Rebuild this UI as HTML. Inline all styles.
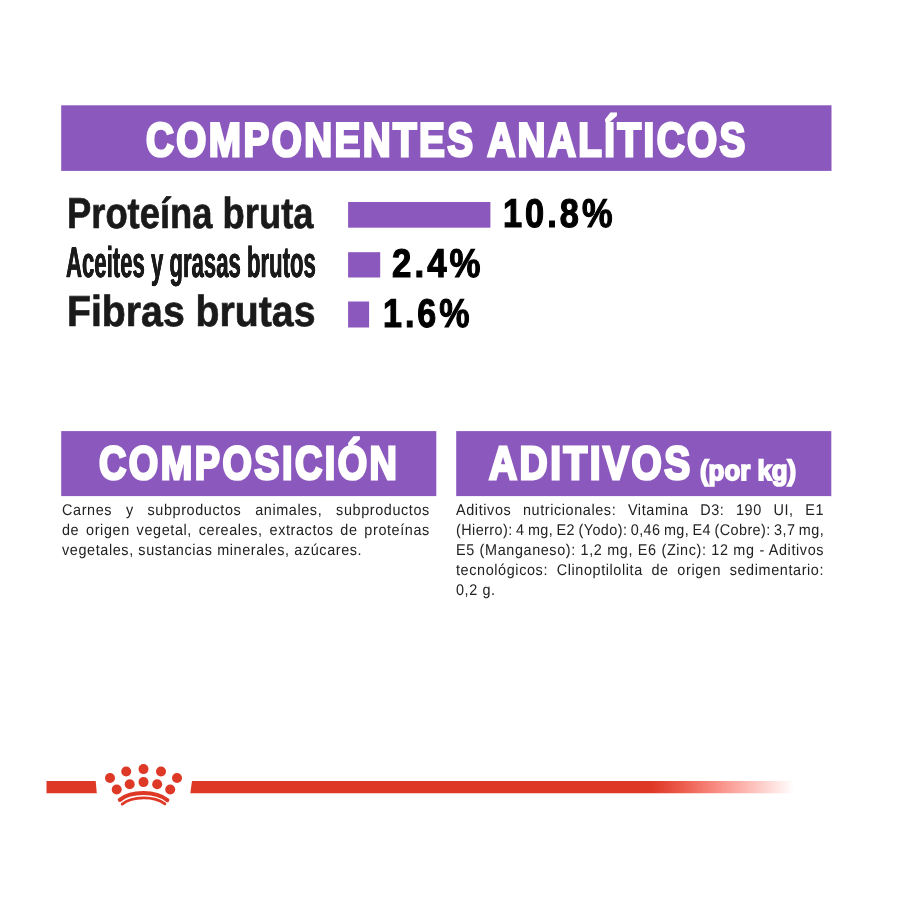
<!DOCTYPE html>
<html lang="es">
<head>
<meta charset="utf-8">
<title>Componentes analíticos</title>
<style>
html,body{margin:0;padding:0;background:#fff;}
body{width:900px;height:900px;position:relative;overflow:hidden;font-family:"Liberation Sans",sans-serif;}
.t{position:absolute;white-space:nowrap;line-height:1;transform-origin:0 100%;font-weight:bold;text-rendering:geometricPrecision;}
.hd{color:#fff;-webkit-text-stroke:2.8px #fff;letter-spacing:3px;}
.hd2{color:#fff;-webkit-text-stroke:1.8px #fff;}
.lbl{color:#1a1a1a;-webkit-text-stroke:0.7px #1a1a1a;}
#l2{-webkit-text-stroke:0.3px #1a1a1a;text-shadow:0.4px 0 0 #1a1a1a,-0.4px 0 0 #1a1a1a;}
.num{color:#000;letter-spacing:3.5px;-webkit-text-stroke:1.2px #000;}
.body{position:absolute;color:#222;font-size:15.5px;line-height:20px;letter-spacing:0.65px;transform-origin:0 0;transform:scaleX(0.93);text-rendering:geometricPrecision;}
.body div{text-align:justify;text-align-last:justify;white-space:nowrap;height:20px;}
.body div.last{text-align-last:left;}
</style>
</head>
<body>
<svg id="shapes" style="position:absolute;left:0;top:0;" width="900" height="520" viewBox="0 0 900 520">
<g fill="#8b58bd">
<rect x="61.2" y="105.3" width="770.3" height="65.6"/>
<rect x="348.1" y="202.0" width="142.3" height="25.7"/>
<rect x="348.1" y="252.2" width="32.1" height="25.3"/>
<rect x="348.1" y="301.5" width="21.0" height="26.0"/>
<rect x="61.2" y="431.1" width="375.1" height="65.0"/>
<rect x="456.2" y="431.1" width="375.1" height="65.0"/>
</g>
</svg>

<span id="h1" class="t hd" style="left:145.54px;top:117.05px;font-size:47.4px;transform:scale(0.8151,1.0000);">COMPONENTES ANALÍTICOS</span>
<span id="l1" class="t lbl" style="left:66.77px;top:193.41px;font-size:43.3px;transform:scale(0.8397,1.0000);">Proteína bruta</span>
<span id="l2" class="t lbl" style="left:65.70px;top:242.01px;font-size:43.3px;transform:scale(0.5115,1.0000);">Aceites y grasas brutos</span>
<span id="l3" class="t lbl" style="left:67.00px;top:291.11px;font-size:43.3px;transform:scale(0.9059,1.0000);">Fibras brutas</span>
<span id="n1" class="t num" style="left:502.58px;top:194.22px;font-size:40.1px;transform:scale(0.8579,1.0000);">10.8%</span>
<span id="n2" class="t num" style="left:392.25px;top:244.22px;font-size:40.1px;transform:scale(0.8693,1.0000);">2.4%</span>
<span id="n3" class="t num" style="left:383.15px;top:294.22px;font-size:40.1px;transform:scale(0.8495,1.0000);">1.6%</span>
<span id="h2" class="t hd" style="left:98.82px;top:440.22px;font-size:46.6px;transform:scale(0.8129,1.0000);">COMPOSICIÓN</span>
<span id="h3" class="t hd" style="left:489.47px;top:440.22px;font-size:46.6px;transform:scale(0.8347,1.0000);">ADITIVOS</span>
<span id="h4" class="t hd2" style="left:700.00px;top:456.94px;font-size:28px;transform:scale(0.9231,1.0000);">(por kg)</span>

<div id="b1" class="body" style="left:61.5px;top:501px;width:395.6px;">
<div>Carnes y subproductos animales, subproductos</div>
<div>de origen vegetal, cereales, extractos de proteínas</div>
<div class="last">vegetales, sustancias minerales, azúcares.</div>
</div>
<div id="b2" class="body" style="left:456.3px;top:501px;width:395.8px;">
<div>Aditivos nutricionales: Vitamina D3: 190 UI, E1</div>
<div style="letter-spacing:0.45px;word-spacing:-1.15px;">(Hierro): 4 mg, E2 (Yodo): 0,46 mg, E4 (Cobre): 3,7 mg,</div>
<div>E5 (Manganeso): 1,2 mg, E6 (Zinc): 12 mg - Aditivos</div>
<div>tecnológicos: Clinoptilolita de origen sedimentario:</div>
<div class="last">0,2 g.</div>
</div>

<svg id="logo" style="position:absolute;left:0;top:740px;" width="900" height="100" viewBox="0 740 900 100">
<defs>
<linearGradient id="fade" gradientUnits="userSpaceOnUse" x1="651" x2="794" y1="0" y2="0">
<stop offset="0" stop-color="#de3826"/>
<stop offset="0.2" stop-color="#eb5848"/>
<stop offset="0.4" stop-color="#f68076"/>
<stop offset="0.6" stop-color="#fbaaa3"/>
<stop offset="0.8" stop-color="#fed4d0"/>
<stop offset="1" stop-color="#ffffff"/>
</linearGradient>
</defs>
<polygon points="46.5,781 95.7,781 96.8,793.2 46.5,793.2" fill="#de3826"/>
<polygon points="192,781 795,781 795,793.2 190.3,793.2" fill="url(#fade)"/>
<g fill="#de3826">
<circle cx="110" cy="778" r="5"/><circle cx="126.2" cy="771.5" r="5"/><circle cx="143.5" cy="769.1" r="5"/><circle cx="161" cy="771.5" r="5"/><circle cx="177" cy="778" r="5"/>
<circle cx="116.7" cy="789.5" r="5"/><circle cx="129.7" cy="784.2" r="5"/><circle cx="143.5" cy="782.1" r="5"/><circle cx="157.2" cy="784.2" r="5"/><circle cx="170.2" cy="789.5" r="5"/>
</g>
<g fill="none" stroke="#de3826" stroke-linecap="round">
<path d="M119.8,799.8 C131.5,790.7 155.5,790.7 167.3,800.1" stroke-width="4.1"/>
<path d="M122.2,804.1 C132.5,795.9 154.5,795.9 164.9,803.9" stroke-width="2.8"/>
</g>
</svg>
</body>
</html>
